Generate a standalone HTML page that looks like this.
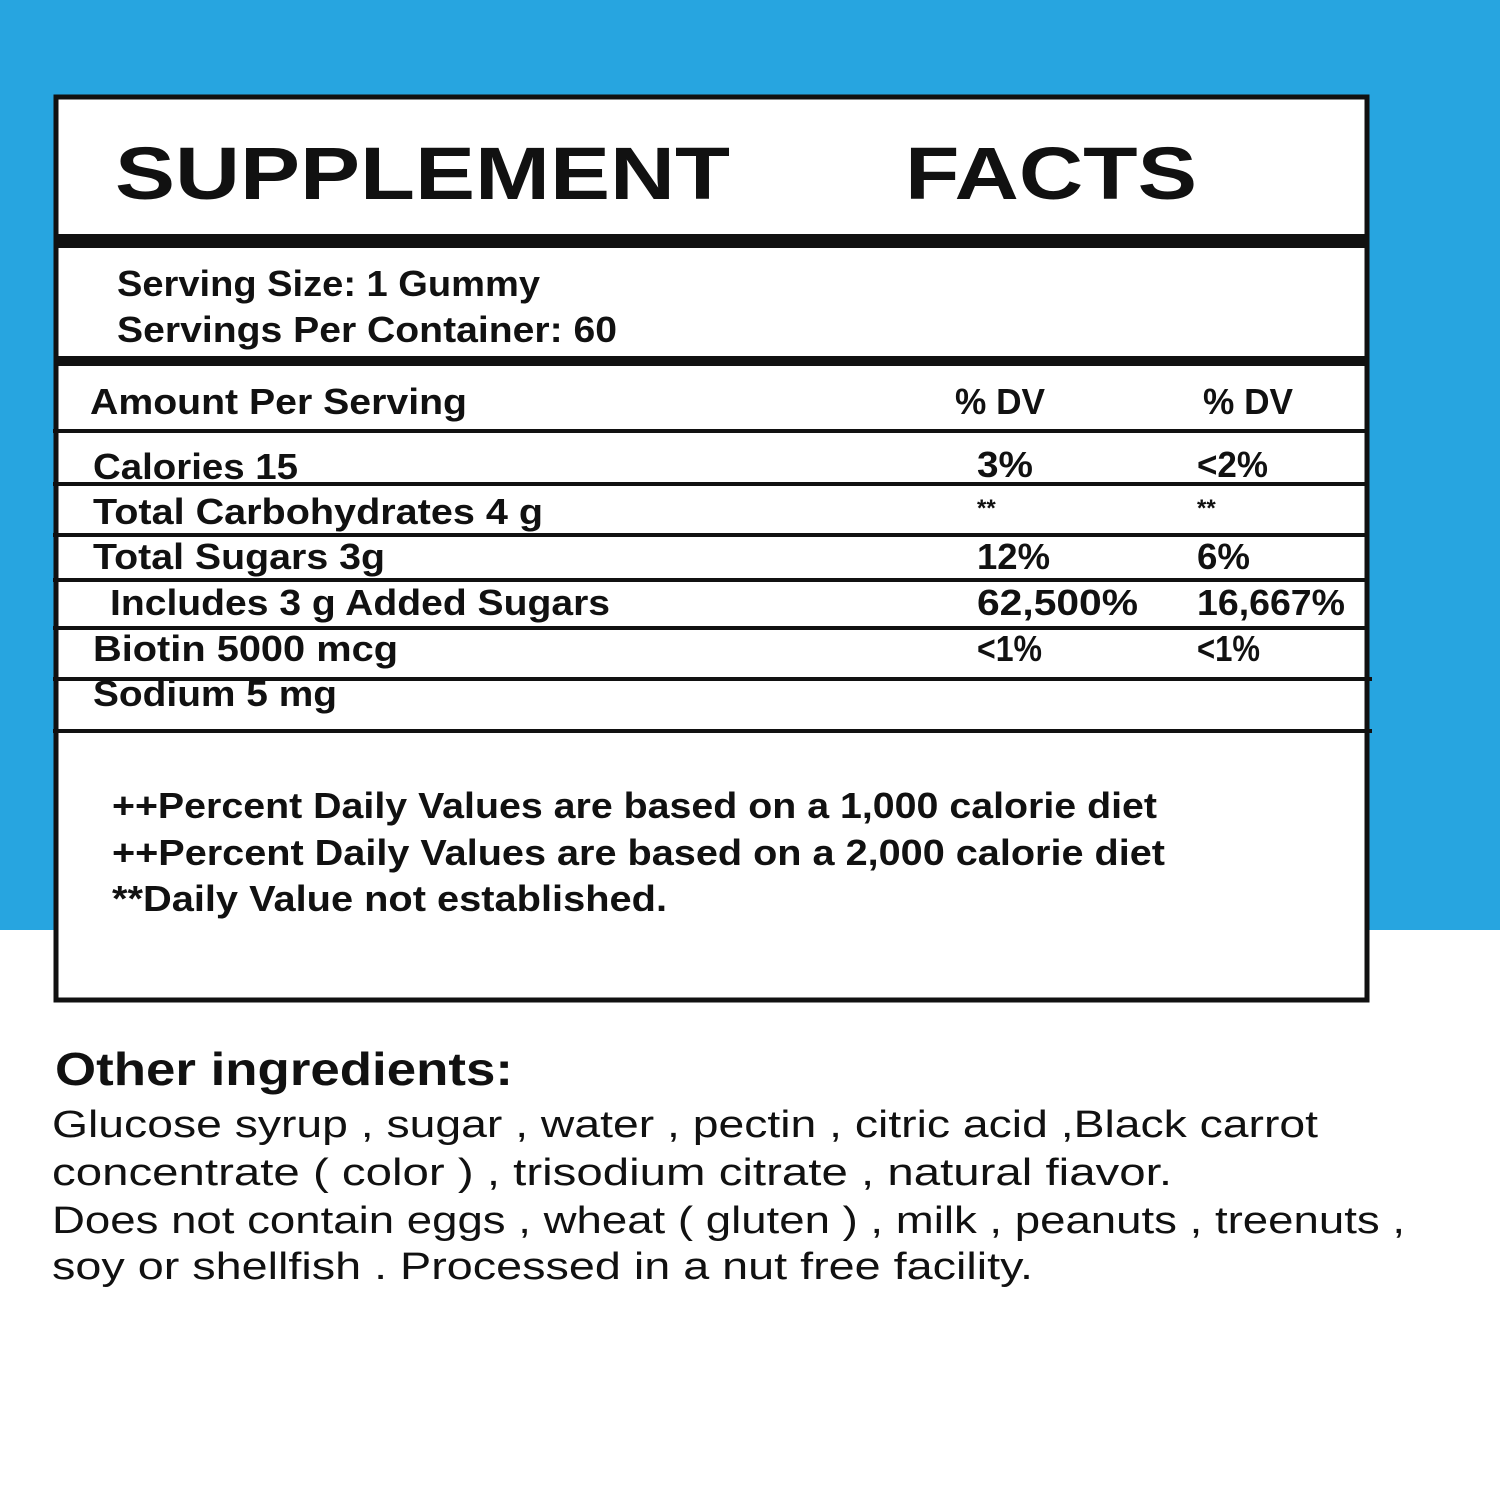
<!DOCTYPE html>
<html><head><meta charset="utf-8"><style>
html,body{margin:0;padding:0;width:1500px;height:1500px;overflow:hidden;background:#fff}
svg{display:block}
text{font-family:"Liberation Sans",sans-serif;fill:#111}
.b{font-weight:bold}
</style></head><body>
<svg width="1500" height="1500" viewBox="0 0 1500 1500">
<rect x="0" y="0" width="1500" height="930" fill="#27a5e0"/>
<rect x="56" y="97" width="1311" height="903" fill="#fff" stroke="#111" stroke-width="5"/>
<rect x="56" y="234" width="1311" height="14" fill="#111"/>
<rect x="56" y="356" width="1311" height="10" fill="#111"/>
<g stroke="#111" stroke-width="4">
<line x1="53" y1="431" x2="1368" y2="431"/>
<line x1="53" y1="484" x2="1368" y2="484"/>
<line x1="53" y1="535" x2="1368" y2="535"/>
<line x1="53" y1="580" x2="1368" y2="580"/>
<line x1="53" y1="628" x2="1368" y2="628"/>
<line x1="53" y1="679" x2="1372" y2="679"/>
<line x1="53" y1="731" x2="1372" y2="731"/>
</g>
<text class="b" x="115" y="199" font-size="74" textLength="615" lengthAdjust="spacingAndGlyphs">SUPPLEMENT</text>
<text class="b" x="905" y="199" font-size="74" textLength="292" lengthAdjust="spacingAndGlyphs">FACTS</text>
<g>
<text class="b" x="117" y="296" font-size="36" textLength="423" lengthAdjust="spacingAndGlyphs">Serving Size: 1 Gummy</text>
<text class="b" x="117" y="342" font-size="36" textLength="500" lengthAdjust="spacingAndGlyphs">Servings Per Container: 60</text>
<text class="b" x="90" y="414" font-size="36" textLength="377" lengthAdjust="spacingAndGlyphs">Amount Per Serving</text>
<text class="b" x="955" y="414" font-size="36" textLength="90" lengthAdjust="spacingAndGlyphs">% DV</text>
<text class="b" x="1203" y="414" font-size="36" textLength="90" lengthAdjust="spacingAndGlyphs">% DV</text>
<text class="b" x="93" y="479" font-size="36" textLength="205" lengthAdjust="spacingAndGlyphs">Calories 15</text>
<text class="b" x="977" y="477" font-size="36" textLength="56" lengthAdjust="spacingAndGlyphs">3%</text>
<text class="b" x="1197" y="477" font-size="36" textLength="71" lengthAdjust="spacingAndGlyphs">&lt;2%</text>
<text class="b" x="93" y="524" font-size="36" textLength="450" lengthAdjust="spacingAndGlyphs">Total Carbohydrates 4 g</text>
<text class="b" x="977" y="516" font-size="24">**</text>
<text class="b" x="1197" y="516" font-size="24">**</text>
<text class="b" x="93" y="569" font-size="36" textLength="292" lengthAdjust="spacingAndGlyphs">Total Sugars 3g</text>
<text class="b" x="977" y="569" font-size="36" textLength="73" lengthAdjust="spacingAndGlyphs">12%</text>
<text class="b" x="1197" y="569" font-size="36" textLength="53" lengthAdjust="spacingAndGlyphs">6%</text>
<text class="b" x="110" y="615" font-size="36" textLength="500" lengthAdjust="spacingAndGlyphs">Includes 3 g Added Sugars</text>
<text class="b" x="977" y="615" font-size="36" textLength="161" lengthAdjust="spacingAndGlyphs">62,500%</text>
<text class="b" x="1197" y="615" font-size="36" textLength="148" lengthAdjust="spacingAndGlyphs">16,667%</text>
<text class="b" x="93" y="661" font-size="36" textLength="305" lengthAdjust="spacingAndGlyphs">Biotin 5000 mcg</text>
<text class="b" x="977" y="661" font-size="36" textLength="65" lengthAdjust="spacingAndGlyphs">&lt;1%</text>
<text class="b" x="1197" y="661" font-size="36" textLength="63" lengthAdjust="spacingAndGlyphs">&lt;1%</text>
<text class="b" x="93" y="706" font-size="36" textLength="244" lengthAdjust="spacingAndGlyphs">Sodium 5 mg</text>
<text class="b" x="112" y="818" font-size="36" textLength="1045" lengthAdjust="spacingAndGlyphs">++Percent Daily Values are based on a 1,000 calorie diet</text>
<text class="b" x="112" y="865" font-size="36" textLength="1053" lengthAdjust="spacingAndGlyphs">++Percent Daily Values are based on a 2,000 calorie diet</text>
<text class="b" x="112" y="911" font-size="36" textLength="555" lengthAdjust="spacingAndGlyphs">**Daily Value not established.</text>
<text class="b" x="55" y="1085" font-size="46" textLength="458" lengthAdjust="spacingAndGlyphs">Other ingredients:</text>
</g>
<g fill="#222">
<text x="52" y="1137" font-size="38" textLength="1266" lengthAdjust="spacingAndGlyphs">Glucose syrup , sugar , water , pectin , citric acid ,Black carrot</text>
<text x="52" y="1185" font-size="38" textLength="1120" lengthAdjust="spacingAndGlyphs">concentrate ( color ) , trisodium citrate , natural fiavor.</text>
<text x="52" y="1233" font-size="38" textLength="1353" lengthAdjust="spacingAndGlyphs">Does not contain eggs , wheat ( gluten ) , milk , peanuts , treenuts ,</text>
<text x="52" y="1279" font-size="38" textLength="981" lengthAdjust="spacingAndGlyphs">soy or shellfish . Processed in a nut free facility.</text>
</g>
</svg>
</body></html>
